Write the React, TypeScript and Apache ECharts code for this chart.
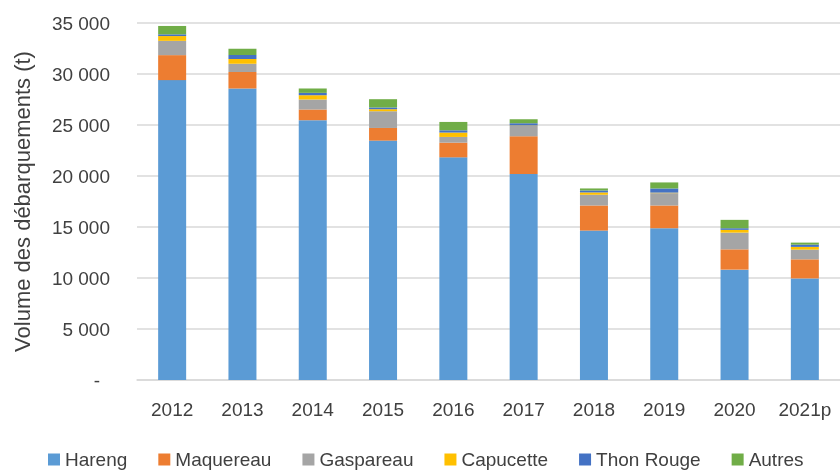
import React, { useEffect, useRef } from "react";
import * as echarts from "echarts";

const years = ["2012", "2013", "2014", "2015", "2016", "2017", "2018", "2019", "2020", "2021p"];
const hareng = [29400, 28580, 25470, 23470, 21830, 20190, 14650, 14880, 10820, 9960];
const maquereau = [2450, 1610, 1050, 1240, 1440, 3700, 2460, 2230, 1990, 1870];
const gaspareau = [1400, 810, 980, 1640, 560, 1020, 1050, 1210, 1640, 950];
const capucette = [470, 460, 420, 200, 430, 50, 230, 50, 270, 270];
const thonRouge = [170, 400, 230, 170, 220, 200, 190, 410, 160, 220];
const autres = [820, 620, 430, 810, 820, 400, 200, 590, 820, 200];

const seriesDefs = [
  { name: "Hareng", data: hareng, color: "#5B9BD5" },
  { name: "Maquereau", data: maquereau, color: "#ED7D31" },
  { name: "Gaspareau", data: gaspareau, color: "#A5A5A5" },
  { name: "Capucette", data: capucette, color: "#FFC000" },
  { name: "Thon Rouge", data: thonRouge, color: "#4472C4" },
  { name: "Autres", data: autres, color: "#70AD47" },
];

const FONT = "'Liberation Sans', Arial, sans-serif";
const TEXT = "#404040";

export default function App() {
  const ref = useRef<HTMLDivElement>(null);
  useEffect(() => {
    if (!ref.current) return;
    const chart = echarts.init(ref.current, undefined, { renderer: "svg" });
    chart.setOption({
      animation: false,
      textStyle: { fontFamily: FONT },
      grid: { left: 137, top: 23, width: 710, height: 357 },
      legend: {
        left: 48,
        top: 450,
        padding: 0,
        itemWidth: 12,
        itemHeight: 12,
        itemGap: 31,
        icon: "rect",
        textStyle: { fontSize: 19, lineHeight: 18, color: TEXT, fontFamily: FONT },
        data: seriesDefs.map((s) => s.name),
      },
      xAxis: {
        type: "category",
        data: years,
        axisTick: { show: false },
        axisLine: { lineStyle: { color: "#d9d9d9", width: 1.5 } },
        axisLabel: { fontSize: 19, color: TEXT, margin: 20, fontFamily: FONT },
      },
      yAxis: {
        type: "value",
        min: 0,
        max: 35000,
        interval: 5000,
        name: "Volume des débarquements (t)",
        nameLocation: "middle",
        nameGap: 104,
        nameTextStyle: { fontSize: 22, color: TEXT, fontFamily: FONT },
        axisLine: { show: false },
        axisTick: { show: false },
        splitLine: { lineStyle: { color: "#d9d9d9", width: 1.5 } },
        axisLabel: {
          fontSize: 19,
          color: TEXT,
          margin: 27,
          fontFamily: FONT,
          formatter: (v: number) => {
            if (v === 0) return "{d|-}";
            const s = String(v);
            return s.slice(0, s.length - 3) + " " + s.slice(s.length - 3);
          },
          rich: {
            d: { fontSize: 19, color: TEXT, padding: [0, 10, 0, 0], fontFamily: FONT },
          },
        },
      },
      series: seriesDefs.map((s) => ({
        name: s.name,
        type: "bar",
        stack: "total",
        barWidth: 28,
        data: s.data,
        itemStyle: { color: s.color },
      })),
    });
    return () => chart.dispose();
  }, []);
  return (
    <div
      ref={ref}
      style={{ position: "fixed", left: 0, top: 0, width: 840, height: 470 }}
    />
  );
}
